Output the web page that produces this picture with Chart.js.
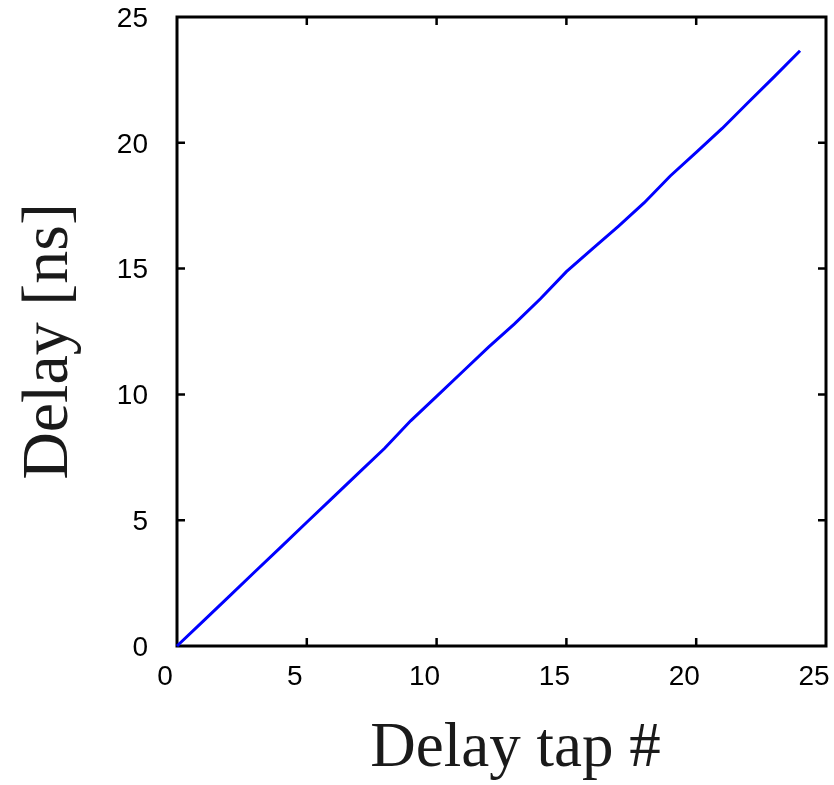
<!DOCTYPE html>
<html>
<head>
<meta charset="utf-8">
<script src="https://cdn.jsdelivr.net/npm/chart.js@4.4.1/dist/chart.umd.min.js"></script>
<style>
    body { margin: 0; background: #fff; }
    #wrap { width: 834px; height: 785px; }
</style>
</head>
<body>
<div id="wrap"><canvas id="delayChart" width="834" height="785"></canvas></div>
<script>
// Delay vs tap index
const tapIndex = [0, 1, 2, 3, 4, 5, 6, 7, 8, 9, 10, 11, 12, 13, 14, 15, 16, 17, 18, 19, 20, 21, 22, 23, 24];
const delayNs = [0, 0.98, 1.96, 2.95, 3.93, 4.92, 5.90, 6.88, 7.86, 8.95, 9.92, 10.90, 11.88, 12.80, 13.80, 14.88,
                 15.78, 16.68, 17.62, 18.68, 19.62, 20.57, 21.60, 22.62, 23.66];
const axisMin = 0;
const axisMax = 25;
const tickStep = 5;

const tickFont = { family: 'Liberation Sans, Arial, sans-serif', size: 28 };
const titleFont = { family: 'Liberation Serif, Times New Roman, serif', size: 63, lineHeight: 1 };

// frame + inward ticks on all four sides
const framePlugin = {
    id: 'frame',
    afterLayout(chart) {
        // nudge axis titles off-centre like in the original figure
        chart.scales.x.right += 28;
        chart.scales.y.bottom += 20;
    },
    beforeDatasetsDraw(chart) {
        const { ctx, chartArea: a, scales } = chart;
        ctx.save();
        ctx.strokeStyle = '#000';
        ctx.lineWidth = 3;
        ctx.strokeRect(a.left, a.top, a.right - a.left, a.bottom - a.top);
        ctx.lineWidth = 2.5;
        const len = 8;
        scales.x.ticks.forEach(t => {
            if (t.value <= axisMin || t.value >= axisMax) return;
            const px = scales.x.getPixelForValue(t.value);
            ctx.beginPath();
            ctx.moveTo(px, a.bottom); ctx.lineTo(px, a.bottom - len);
            ctx.moveTo(px, a.top); ctx.lineTo(px, a.top + len);
            ctx.stroke();
        });
        scales.y.ticks.forEach(t => {
            if (t.value <= axisMin || t.value >= axisMax) return;
            const py = scales.y.getPixelForValue(t.value);
            ctx.beginPath();
            ctx.moveTo(a.left, py); ctx.lineTo(a.left + len, py);
            ctx.moveTo(a.right, py); ctx.lineTo(a.right - len, py);
            ctx.stroke();
        });
        ctx.restore();
    }
};

const ctx = document.getElementById('delayChart').getContext('2d');
new Chart(ctx, {
    type: 'line',
    data: {
        datasets: [{
            label: 'Delay',
            data: tapIndex.map((x, i) => ({ x: x, y: delayNs[i] })),
            borderColor: '#0000ff',
            borderWidth: 3,
            pointRadius: 0,
            tension: 0,
            fill: false,
            clip: false
        }]
    },
    options: {
        responsive: false,
        animation: false,
        layout: {
            padding: { left: 0, right: 8, top: 17, bottom: 0 }
        },
        plugins: {
            legend: { display: false },
            tooltip: { enabled: false }
        },
        scales: {
            x: {
                type: 'linear',
                min: axisMin,
                max: axisMax,
                grid: { display: false, drawTicks: false },
                border: { display: false },
                ticks: {
                    stepSize: tickStep,
                    color: '#000',
                    font: tickFont,
                    padding: 14,
                    labelOffset: -12,
                    maxRotation: 0
                },
                title: {
                    display: true,
                    text: 'Delay tap #',
                    color: '#1a1a1a',
                    font: titleFont,
                    padding: { top: 0, bottom: 4 }
                },
                afterFit(scale) {
                    scale.height = 139;
                    scale.paddingLeft = 0;
                    scale.paddingRight = 0;
                }
            },
            y: {
                type: 'linear',
                min: axisMin,
                max: axisMax,
                grid: { display: false, drawTicks: false },
                border: { display: false },
                ticks: {
                    stepSize: tickStep,
                    color: '#000',
                    font: tickFont,
                    padding: 29,
                    labelOffset: 2
                },
                title: {
                    display: true,
                    text: 'Delay [ns]',
                    color: '#1a1a1a',
                    font: { family: titleFont.family, size: 66, lineHeight: 1 },
                    padding: { top: 17, bottom: 0 }
                },
                afterFit(scale) {
                    scale.width = 177;
                    scale.paddingTop = 0;
                    scale.paddingBottom = 0;
                }
            }
        }
    },
    plugins: [framePlugin]
});
</script>
</body>
</html>
